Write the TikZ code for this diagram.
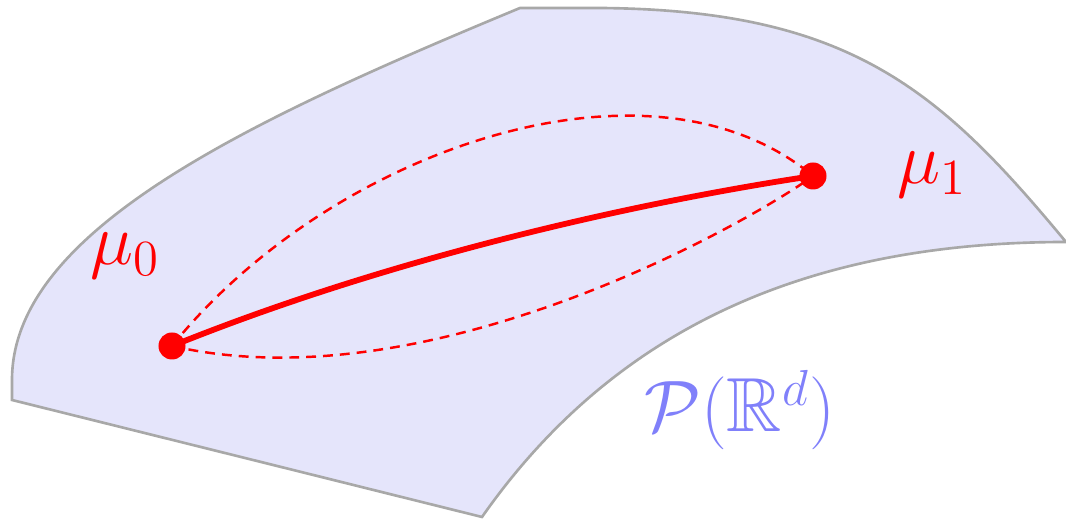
\documentclass[tikz,border=0pt]{standalone}
\usepackage{amsmath}
\usepackage{amssymb}
\usepackage{tikz}
\usetikzlibrary{
  arrows.meta,
  positioning,
  calc
}
\definecolor{sheet}{RGB}{229,229,251}
\definecolor{rim}{RGB}{168,168,168}
\definecolor{spacelbl}{RGB}{128,128,250}

\begin{document}
\begin{tikzpicture}[
  x=0.01cm, y=-0.01cm,
  measure/.style={
    circle,
    fill=red,
    inner sep=0pt,
    minimum size=0.27cm
  },
  geodesic/.style={
    draw=red,
    line width=1.65pt
  },
  otherpath/.style={
    draw=red,
    line width=0.7pt,
    dash pattern=on 2.8pt off 2pt
  },
  ptlabel/.style={
    font=\fontsize{21.8}{26}\selectfont,
    text=red
  },
  spacelabel/.style={
    font=\fontsize{21.8}{26}\selectfont,
    text=spacelbl
  }
]
  \useasboundingbox (0,0) rectangle (1066,522);

  % The curved sheet standing for the space of measures
  \filldraw[fill=sheet, draw=rim, line width=0.75pt]
    (12,400) -- (12,380) .. controls (12,230) and (250,120) .. (520,8)
    -- (600,8) .. controls (850,10) and (940,90) .. (1066,242)
    .. controls (820,242) and (620,320) .. (482,517) -- cycle;

  % End points
  \node[measure] (mu0) at (172,346) {};
  \node[measure] (mu1) at (813,176) {};

  % Other interpolating curves
  \draw[otherpath] (mu0.center) .. controls (330,150) and (650,40) .. (mu1.center);
  \draw[otherpath] (mu0.center) .. controls (430,405) and (750,222) .. (mu1.center);

  % Geodesic between the two measures
  \draw[geodesic] (mu0.center) .. controls (380,262) and (620,205) .. (mu1.center);

  % Labels
  \node[ptlabel] (lbl0) at (125,256) {$\mu_0$};
  \node[ptlabel] (lbl1) at (932,175) {$\mu_1$};
  \node[spacelabel] (space) at (740,410) {$\mathcal{P}(\mathbb{R}^d)$};
\end{tikzpicture}
\end{document}
